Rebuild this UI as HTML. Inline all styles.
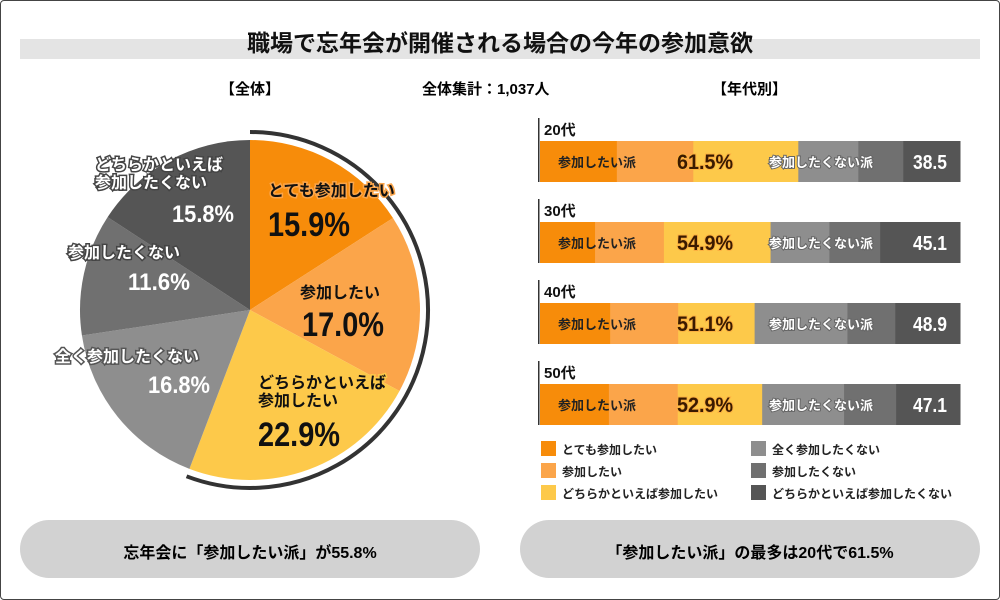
<!DOCTYPE html>
<html><head><meta charset="utf-8">
<style>
body{margin:0;width:1000px;height:600px;overflow:hidden;background:#fff;font-family:"Liberation Sans","Noto Sans CJK JP",sans-serif;}
#wrap{position:absolute;left:0;top:0;width:998px;height:598px;border:1px solid #444;border-radius:4px;}
.t{position:absolute;white-space:nowrap;font-weight:bold;}
</style></head><body>
<div id="wrap"></div>
<div style="position:absolute;left:20px;top:39px;width:960px;height:20px;background:#e4e4e4"></div>
<div class="t" style="left:0;width:1000px;text-align:center;top:24px;font-size:23px;color:#111">職場で忘年会が開催される場合の今年の参加意欲</div>
<div class="t" style="left:220px;top:78px;font-size:15px">【全体】</div>
<div class="t" style="left:422px;top:78px;font-size:15px">全体集計：1,037人</div>
<div class="t" style="left:712px;top:78px;font-size:15px">【年代別】</div>
<svg id="pie" width="1000" height="600" style="position:absolute;left:0;top:0"></svg>
<svg id="bars" width="1000" height="600" style="position:absolute;left:0;top:0"></svg>
<div style="position:absolute;left:20px;top:520px;width:460px;height:58px;border-radius:29px;background:#d2d2d2"></div>
<div class="t" style="left:20px;width:460px;text-align:center;top:539px;font-size:16px">忘年会に「参加したい派」が55.8%</div>
<div style="position:absolute;left:520px;top:520px;width:460px;height:58px;border-radius:29px;background:#d2d2d2"></div>
<div class="t" style="left:520px;width:460px;text-align:center;top:539px;font-size:16px">「参加したい派」の最多は20代で61.5%</div>
<script>
const NS='http://www.w3.org/2000/svg';
const colors=['#f78c0a','#fba54a','#fdc94a','#8e8e8e','#707070','#555555'];
const pieLabels=['とても参加したい','参加したい','どちらかといえば参加したい','全く参加したくない','参加したくない','どちらかといえば参加したくない'];
const pieValues=[15.9,17.0,22.9,16.8,11.6,15.8];
const ages=['20代','30代','40代','50代'];
const s1=[18.3,13.1,16.7,16.4];
const s2=[18.2,16.4,16.2,16.4];
const s3=[25.0,25.4,18.2,20.1];
const s4=[14.3,14.0,22.1,19.5];
const s5=[10.7,12.1,11.4,12.4];
const s6=[13.5,19.0,15.4,15.2];
const wantTotals=['61.5%','54.9%','51.1%','52.9%'];
const notTotals=['38.5','45.1','48.9','47.1'];

function mk(svg,tag,attrs){const e=document.createElementNS(NS,tag);for(const k in attrs)e.setAttribute(k,attrs[k]);svg.appendChild(e);return e;}
const pie=document.getElementById('pie');
const cx=250,cy=310,R=170;
const tot=pieValues.reduce((a,b)=>a+b,0);
function pt(a,r){return [cx+r*Math.sin(a),cy-r*Math.cos(a)];}
let a0=0;
pieValues.forEach((v,i)=>{
  const a1=a0+v/tot*2*Math.PI;
  const p0=pt(a0,R),p1=pt(a1,R);
  const e=mk(pie,'path',{d:`M${cx},${cy}L${p0[0]},${p0[1]}A${R},${R} 0 ${a1-a0>Math.PI?1:0} 1 ${p1[0]},${p1[1]}Z`,fill:colors[i]});
  
  
  a0=a1;
});
const want=(pieValues[0]+pieValues[1]+pieValues[2])/tot*2*Math.PI;
const q0=pt(0,178),q1=pt(want,178);
const arc=mk(pie,'path',{d:`M${q0[0]},${q0[1]}A178,178 0 ${want>Math.PI?1:0} 1 ${q1[0]},${q1[1]}`,fill:'none',stroke:'#333',"stroke-width":4});


const pl=[
 {x:268,y:196,l:['とても参加したい'],c:'#111',sh:'#fba54a'},
 {x:300,y:298,l:['参加したい'],c:'#111',sh:null},
 {x:258,y:388,l:['どちらかといえば','参加したい'],c:'#111',sh:'#fdc94a'},
 {x:55,y:362,l:['全く参加したくない'],c:'#fff',sh:'#555'},
 {x:68,y:258,l:['参加したくない'],c:'#fff',sh:'#444'},
 {x:95,y:170,l:['どちらかといえば','参加したくない'],c:'#fff',sh:'#444'}];
const pcts=[[268,236],[302,336],[258,446],[148,393],[128,290],[172,222]];
pieValues.forEach((v,i)=>{
  const p=pl[i];
  p.l.forEach((s,j)=>{
    const t=mk(pie,'text',{x:p.x,y:p.y+j*18,'font-size':16,'font-weight':'bold',fill:p.c,'font-family':'"Liberation Sans","Noto Sans CJK JP",sans-serif'});
    if(p.sh){t.setAttribute('stroke',p.sh);t.setAttribute('stroke-width',3);t.setAttribute('paint-order','stroke');}
    t.textContent=s;
    
    
  });
  const big=i<3;
  const t=mk(pie,'text',{x:pcts[i][0],y:pcts[i][1],'font-size':big?34:24,'font-weight':'bold',fill:big?'#111':'#fff','font-family':'"Liberation Sans Narrow","Liberation Sans",sans-serif',textLength:big?82:62,lengthAdjust:'spacingAndGlyphs'});
  t.textContent=v.toFixed(1)+'%';
  
  
});
const bars=document.getElementById('bars');
const X0=540,W=420;
const series=[s1,s2,s3,s4,s5,s6];
ages.forEach((ag,k)=>{
  const y=141+k*81;
  const ln=mk(bars,'rect',{x:538,y:y-23,width:1.5,height:64,fill:'#333'});
  
  const lb=mk(bars,'text',{x:544,y:y-6,'font-size':15,'font-weight':'bold',fill:'#111','font-family':'"Liberation Sans","Noto Sans CJK JP",sans-serif'});
  lb.textContent=ag;
  let acc=0;
  series.forEach((s,i)=>{
    const r=mk(bars,'rect',{x:X0+acc/100*W,y:y,width:s[k]/100*W+0.5,height:41,fill:colors[i]});
    
    
    acc+=s[k];
  });
  const f='"Liberation Sans","Noto Sans CJK JP",sans-serif';
  let t=mk(bars,'text',{x:558,y:y+26,'font-size':13,'font-weight':'bold',fill:'#222','font-family':f});t.textContent='参加したい派';
  
  t=mk(bars,'text',{x:677,y:y+28,'font-size':21,'font-weight':'bold',fill:'#3a1a00',stroke:'#fbb040','stroke-width':2,'paint-order':'stroke','font-family':f,textLength:56,lengthAdjust:'spacingAndGlyphs'});t.textContent=wantTotals[k];
  
  t=mk(bars,'text',{x:769,y:y+26,'font-size':13,'font-weight':'bold',fill:'#fff',stroke:'#666','stroke-width':2,'paint-order':'stroke','font-family':f});t.textContent='参加したくない派';
  
  t=mk(bars,'text',{x:913,y:y+28,'font-size':20,'font-weight':'bold',fill:'#fff','font-family':f,textLength:34,lengthAdjust:'spacingAndGlyphs'});t.textContent=notTotals[k];
  
});
const lx=[541,751],ly=[441,463,485];
pieLabels.forEach((s,i)=>{
  const x=lx[Math.floor(i/3)],y=ly[i%3];
  const r=mk(bars,'rect',{x:x,y:y,width:15,height:15,fill:colors[i]});
  
  const t=mk(bars,'text',{x:x+21,y:y+13,'font-size':12,'font-weight':'bold',fill:'#222','font-family':'"Liberation Sans","Noto Sans CJK JP",sans-serif'});
  t.textContent=s;
});
</script>
</body></html>
